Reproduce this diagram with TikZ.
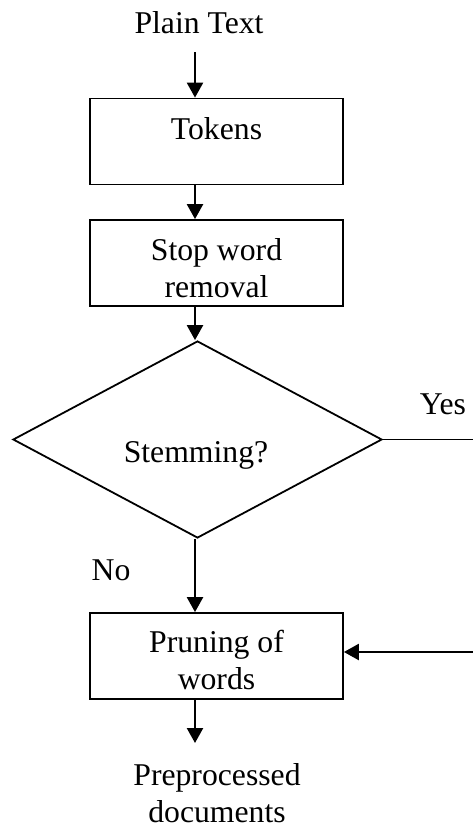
\documentclass[tikz,border=0pt]{standalone}
\usepackage{fontspec}
\setmainfont{Liberation Serif}
\usetikzlibrary{arrows.meta,shapes.geometric}
\begin{document}
\begin{tikzpicture}[x=1pt,y=-1pt,
  txt/.style={inner sep=0pt,anchor=base,align=center,font=\fontsize{31.7}{37}\selectfont},
  boxnode/.style={draw,line width=1.8pt,rectangle,minimum width=253pt,minimum height=86pt,inner sep=0pt},
  decision/.style={draw,line width=1.8pt,diamond,minimum width=369pt,minimum height=197pt,inner sep=0pt},
  arr/.style={line width=2.4pt,-{Triangle[width=16pt,length=15pt]}},
  plainline/.style={line width=1.8pt}]
\useasboundingbox (0,0) rectangle (473,830);
% column of arrows
\coordinate (col) at (195,0);
% texts
\node[txt] (plain) at (199,33) {Plain Text};
\node[boxnode] (tok) at (216.5,141.5) {};
\node[txt] (toktxt) at (216.5,139) {Tokens};
\node[boxnode] (stop) at (216.5,263) {};
\node[txt] (stoptxt) at (216.5,297) {Stop word\\removal};
\node[decision] (dia) at (197.5,439.5) {};
\node[txt] (diatxt) at (196,462) {Stemming?};
\node[txt] (yes) at (443,414) {Yes};
\node[txt] (no) at (111,580) {No};
\node[boxnode] (prun) at (216.5,656) {};
\node[txt] (pruntxt) at (216.5,689) {Pruning of\\words};
\node[txt] (out) at (217,822) {Preprocessed\\documents};
% free ends
\coordinate (s0) at (195,52);
\coordinate (e0) at (195,743);
\coordinate (yesend) at (473,439.5);
\coordinate (backstart) at (473,652);
% connectors
\draw[arr] (s0) -- (tok.north -| s0);
\draw[arr] (tok.south -| col) -- (stop.north -| col);
\draw[arr] (stop.south -| col) -- (dia.north -| col);
\draw[arr] (dia.south -| col) -- (prun.north -| col);
\draw[arr] (prun.south -| col) -- (e0);
\draw[plainline] (dia.east) -- (yesend);
\draw[arr] (backstart) -- (backstart -| prun.east);
\end{tikzpicture}
\end{document}
